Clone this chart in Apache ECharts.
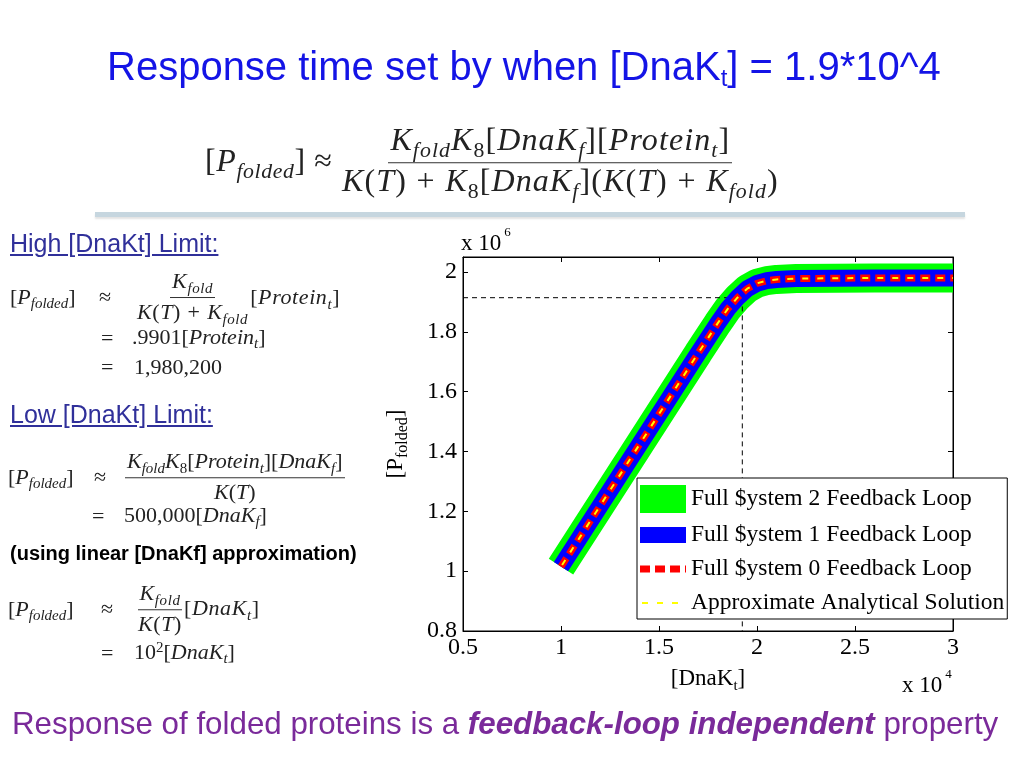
<!DOCTYPE html>
<html>
<head>
<meta charset="utf-8">
<script src="https://cdn.jsdelivr.net/npm/echarts@6/dist/echarts.min.js"></script>
<style>
  html, body { margin:0; padding:0; background:#fff; }
  #page { position:relative; width:1024px; height:768px; overflow:hidden; background:#fff; }
  #chart { position:absolute; left:0; top:0; width:1024px; height:768px; z-index:1; }
  .ov { position:absolute; z-index:2; white-space:nowrap; }
  .title { font-family:"Liberation Sans", Arial, sans-serif; color:#1414e6; font-size:40px; left:107px; top:44px; }
  .title sub { font-size:0.6em; vertical-align:-0.25em; }
  .bar { left:95px; top:212px; width:870px; height:5px; background:#c6d6df; box-shadow:0 2px 2px #e3e3e3; }
  .head { font-family:"Liberation Sans", Arial, sans-serif; color:#30309a; font-size:25px; text-decoration:underline; left:10px; }
  .note { font-family:"Liberation Sans", Arial, sans-serif; color:#000; font-weight:bold; font-size:20px; left:10px; }
  .bottom { font-family:"Liberation Sans", Arial, sans-serif; color:#7a2a9a; font-size:31.3px; left:12px; top:706px; }
  .m { font-family:"Liberation Serif", "DejaVu Serif", serif; color:#222; transform:translateY(-50%); display:flex; align-items:center; }
  .m i { font-style:italic; }
  .m sub { font-size:0.68em; vertical-align:-0.3em; font-style:italic; }
  .m sup { font-size:0.68em; vertical-align:0.5em; }
  .m .pl { margin:0 0.3em; }
  .frac { display:inline-flex; flex-direction:column; align-items:center; }
  .frac .num { border-bottom:1px solid #333; padding:0 2px 1px 2px; text-align:center; }
  .frac .den { padding:1px 2px 0 2px; text-align:center; }
  .big .frac > span { line-height:1.05; }
  .small { font-size:22px; }
</style>
</head>
<body>
<div id="page">
  <div id="chart"></div>

  <div class="ov title">Response time set by when [DnaK<sub>t</sub>] = 1.9*10^4</div>

  <!-- main equation -->
  <div class="ov m big" style="left:205px;top:163px;font-size:32px;">
    <span style="letter-spacing:0.6px;">[<i>P</i><sub>folded</sub>]&nbsp;≈</span>
    <span class="frac" style="letter-spacing:1.1px;position:absolute;left:135px;">
      <span class="num"><i>K</i><sub>fold</sub><i>K</i><span style="font-size:0.68em;vertical-align:-0.3em">8</span>[<i>DnaK</i><sub>f</sub>][<i>Protein</i><sub>t</sub>]</span>
      <span class="den"><i>K</i>(<i>T</i>)<span class="pl">+</span><i>K</i><span style="font-size:0.68em;vertical-align:-0.3em">8</span>[<i>DnaK</i><sub>f</sub>](<i>K</i>(<i>T</i>)<span class="pl">+</span><i>K</i><sub>fold</sub>)</span>
    </span>
  </div>
  <div class="ov bar"></div>

  <!-- High limit -->
  <div class="ov head" style="top:229px;">High [DnaKt] Limit:</div>
  <div class="ov m small" style="left:10px;top:298px;"><span>[<i>P</i><sub>folded</sub>]</span></div>
  <div class="ov m small" style="left:99px;top:297px;"><span>≈</span></div>
  <div class="ov m small" style="left:135px;top:298px;letter-spacing:0.6px;">
    <span class="frac"><span class="num"><i>K</i><sub>fold</sub></span><span class="den"><i>K</i>(<i>T</i>)<span class="pl">+</span><i>K</i><sub>fold</sub></span></span>
    <span>[<i>Protein</i><sub>t</sub>]</span>
  </div>
  <div class="ov m small" style="left:101px;top:338px;"><span>=</span></div>
  <div class="ov m small" style="left:132px;top:338px;"><span>.9901[<i>Protein</i><sub>t</sub>]</span></div>
  <div class="ov m small" style="left:101px;top:367px;"><span>=</span></div>
  <div class="ov m small" style="left:134px;top:367px;"><span>1,980,200</span></div>

  <!-- Low limit -->
  <div class="ov head" style="top:400px;">Low [DnaKt] Limit:</div>
  <div class="ov m small" style="left:8px;top:478px;"><span>[<i>P</i><sub>folded</sub>]</span></div>
  <div class="ov m small" style="left:94px;top:477px;"><span>≈</span></div>
  <div class="ov m small" style="left:125px;top:477px;">
    <span class="frac"><span class="num"><i>K</i><sub>fold</sub><i>K</i><span style="font-size:0.68em;vertical-align:-0.3em">8</span>[<i>Protein</i><sub>t</sub>][<i>DnaK</i><sub>f</sub>]</span><span class="den"><i>K</i>(<i>T</i>)</span></span>
  </div>
  <div class="ov m small" style="left:92px;top:516px;"><span>=</span></div>
  <div class="ov m small" style="left:124px;top:516px;"><span>500,000[<i>DnaK</i><sub>f</sub>]</span></div>

  <div class="ov note" style="top:542px;">(using linear [DnaKf] approximation)</div>

  <div class="ov m small" style="left:8px;top:610px;"><span>[<i>P</i><sub>folded</sub>]</span></div>
  <div class="ov m small" style="left:101px;top:609px;"><span>≈</span></div>
  <div class="ov m small" style="left:136px;top:609px;letter-spacing:0.6px;">
    <span class="frac"><span class="num"><i>K</i><sub>fold</sub></span><span class="den"><i>K</i>(<i>T</i>)</span></span>
    <span>[<i>DnaK</i><sub>t</sub>]</span>
  </div>
  <div class="ov m small" style="left:101px;top:653px;"><span>=</span></div>
  <div class="ov m small" style="left:134px;top:653px;"><span>10<sup>2</sup>[<i>DnaK</i><sub>t</sub>]</span></div>

  <div class="ov bottom">Response of folded proteins is a <b><i>feedback-loop independent</i></b> property</div>
</div>

<script>
// ---- data (x in units of 10^4, y in units of 10^6) ----
const dnaKt      = [1.0, 1.1, 1.2, 1.3, 1.4, 1.5, 1.6, 1.7, 1.8, 1.85, 1.9, 1.95, 2.0, 2.05, 2.1, 2.2, 2.4, 2.6, 2.8, 3.0];
const fullSys2   = [1.015, 1.117, 1.219, 1.321, 1.423, 1.525, 1.627, 1.729, 1.829, 1.876, 1.914, 1.944, 1.962, 1.971, 1.975, 1.978, 1.979, 1.98, 1.98, 1.98];
const fullSys1   = [1.015, 1.117, 1.219, 1.321, 1.423, 1.525, 1.627, 1.729, 1.829, 1.876, 1.914, 1.944, 1.962, 1.971, 1.975, 1.978, 1.979, 1.98, 1.98, 1.98];
const fullSys0   = [1.015, 1.117, 1.219, 1.321, 1.423, 1.525, 1.627, 1.729, 1.829, 1.876, 1.914, 1.944, 1.962, 1.971, 1.975, 1.978, 1.979, 1.98, 1.98, 1.98];
const approxSol  = [1.015, 1.117, 1.219, 1.321, 1.423, 1.525, 1.627, 1.729, 1.829, 1.876, 1.914, 1.944, 1.962, 1.971, 1.975, 1.978, 1.979, 1.98, 1.98, 1.98];
const refX       = [0.5, 1.925, 1.925];
const refY       = [1.914, 1.914, 0.8];
const seriesNames = ['Full $ystem 2 Feedback Loop', 'Full $ystem 1 Feedback Loop', 'Full $ystem 0 Feedback Loop', 'Approximate Analytical Solution'];
const xTicks = { min: 0.5, max: 3, interval: 0.5 };
const yTicks = { min: 0.8, max: 2.05, interval: 0.2 };

const pair = (xs, ys) => xs.map((x, i) => [x, ys[i]]);
const serif = '"Liberation Serif", "Times New Roman", serif';

const chart = echarts.init(document.getElementById('chart'), null, { renderer: 'canvas' });
const axisCommon = {
  type: 'value',
  axisLine: { show: true, onZero: false, lineStyle: { color: '#000', width: 1 } },
  axisTick: { show: true, inside: true, length: 5, lineStyle: { color: '#000' } },
  splitLine: { show: false },
  axisLabel: { color: '#000', fontFamily: serif, fontSize: 24, showMaxLabel: false }
};
const hiddenIcon = { color: 'rgba(0,0,0,0)', borderColor: 'rgba(0,0,0,0)', borderWidth: 0, opacity: 0 };
chart.setOption({
  animation: false,
  backgroundColor: 'transparent',
  grid: { left: 463, right: 71, top: 257, bottom: 137, show: true, borderColor: '#000', borderWidth: 1, backgroundColor: '#fff' },
  xAxis: [
    Object.assign({}, axisCommon, {
      min: xTicks.min, max: xTicks.max, interval: xTicks.interval, position: 'bottom',
      axisLabel: Object.assign({}, axisCommon.axisLabel, { margin: 5, showMaxLabel: true }),
      name: '[DnaK{s|t}]', nameLocation: 'middle', nameGap: 33,
      nameTextStyle: { color: '#000', fontFamily: serif, fontSize: 23,
        rich: { s: { fontFamily: serif, fontSize: 15, color: '#000', padding: [15, 0, 0, 0] } } }
    }),
    Object.assign({}, axisCommon, {
      min: xTicks.min, max: xTicks.max, interval: xTicks.interval, position: 'top',
      axisLabel: { show: false }
    })
  ],
  yAxis: [
    Object.assign({}, axisCommon, {
      min: yTicks.min, max: yTicks.max, interval: yTicks.interval, position: 'left',
      axisLabel: Object.assign({}, axisCommon.axisLabel, { margin: 6 }),
      name: '[P{s|folded}]', nameLocation: 'middle', nameGap: 52, nameRotate: 90,
      nameTextStyle: { color: '#000', fontFamily: serif, fontSize: 23,
        rich: { s: { fontFamily: serif, fontSize: 16, color: '#000', padding: [15, 0, 0, 0] } } }
    }),
    Object.assign({}, axisCommon, {
      min: yTicks.min, max: yTicks.max, interval: yTicks.interval, position: 'right',
      axisLabel: { show: false }
    })
  ],
  legend: {
    orient: 'vertical', left: 637, top: 478,
    backgroundColor: '#fff', borderColor: '#000', borderWidth: 1,
    padding: [7, 3, 4, -11], itemWidth: 46, itemHeight: 22, itemGap: 10,
    textStyle: { color: '#000', fontFamily: serif, fontSize: 23.5 },
    itemStyle: hiddenIcon,
    data: [
      { name: seriesNames[0], lineStyle: { width: 28 }, itemStyle: hiddenIcon },
      { name: seriesNames[1], lineStyle: { width: 16 }, itemStyle: hiddenIcon },
      { name: seriesNames[2], lineStyle: { width: 7 }, itemStyle: hiddenIcon },
      { name: seriesNames[3], lineStyle: { width: 2 }, itemStyle: hiddenIcon }
    ]
  },
  graphic: [
    { type: 'text', left: 461, top: 226, z: 10,
      style: { text: '{a|x 10}{b|6}', rich: {
        a: { fontFamily: serif, fontSize: 23, fill: '#000', padding: [7, 0, 0, 0] },
        b: { fontFamily: serif, fontSize: 13, fill: '#000', padding: [0, 0, 16, 3] } } } },
    { type: 'text', left: 902, top: 668, z: 10,
      style: { text: '{a|x 10}{b|4}', rich: {
        a: { fontFamily: serif, fontSize: 23, fill: '#000', padding: [7, 0, 0, 0] },
        b: { fontFamily: serif, fontSize: 13, fill: '#000', padding: [0, 0, 16, 3] } } } }
  ],
  series: [
    { name: seriesNames[0], type: 'line', data: pair(dnaKt, fullSys2), symbol: 'none', z: 2,
      lineStyle: { color: '#00ff00', width: 29 }, itemStyle: { color: '#00ff00' } },
    { name: 'ref', type: 'line', data: pair(refX, refY), symbol: 'none', z: 3, silent: true,
      lineStyle: { color: '#000', width: 1, type: [5, 4] } },
    { name: seriesNames[1], type: 'line', data: pair(dnaKt, fullSys1), symbol: 'none', z: 4,
      lineStyle: { color: '#0000ff', width: 17 }, itemStyle: { color: '#0000ff' } },
    { name: seriesNames[2], type: 'line', data: pair(dnaKt, fullSys0), symbol: 'none', z: 5,
      lineStyle: { color: '#ff0000', width: 7, type: [10, 5] }, itemStyle: { color: '#ff0000' } },
    { name: seriesNames[3], type: 'line', data: pair(dnaKt, approxSol), symbol: 'none', z: 6,
      lineStyle: { color: '#ffff00', width: 2, type: [6, 9], dashOffset: -2 }, itemStyle: { color: '#ffff00' } }
  ]
});
</script>
</body>
</html>
